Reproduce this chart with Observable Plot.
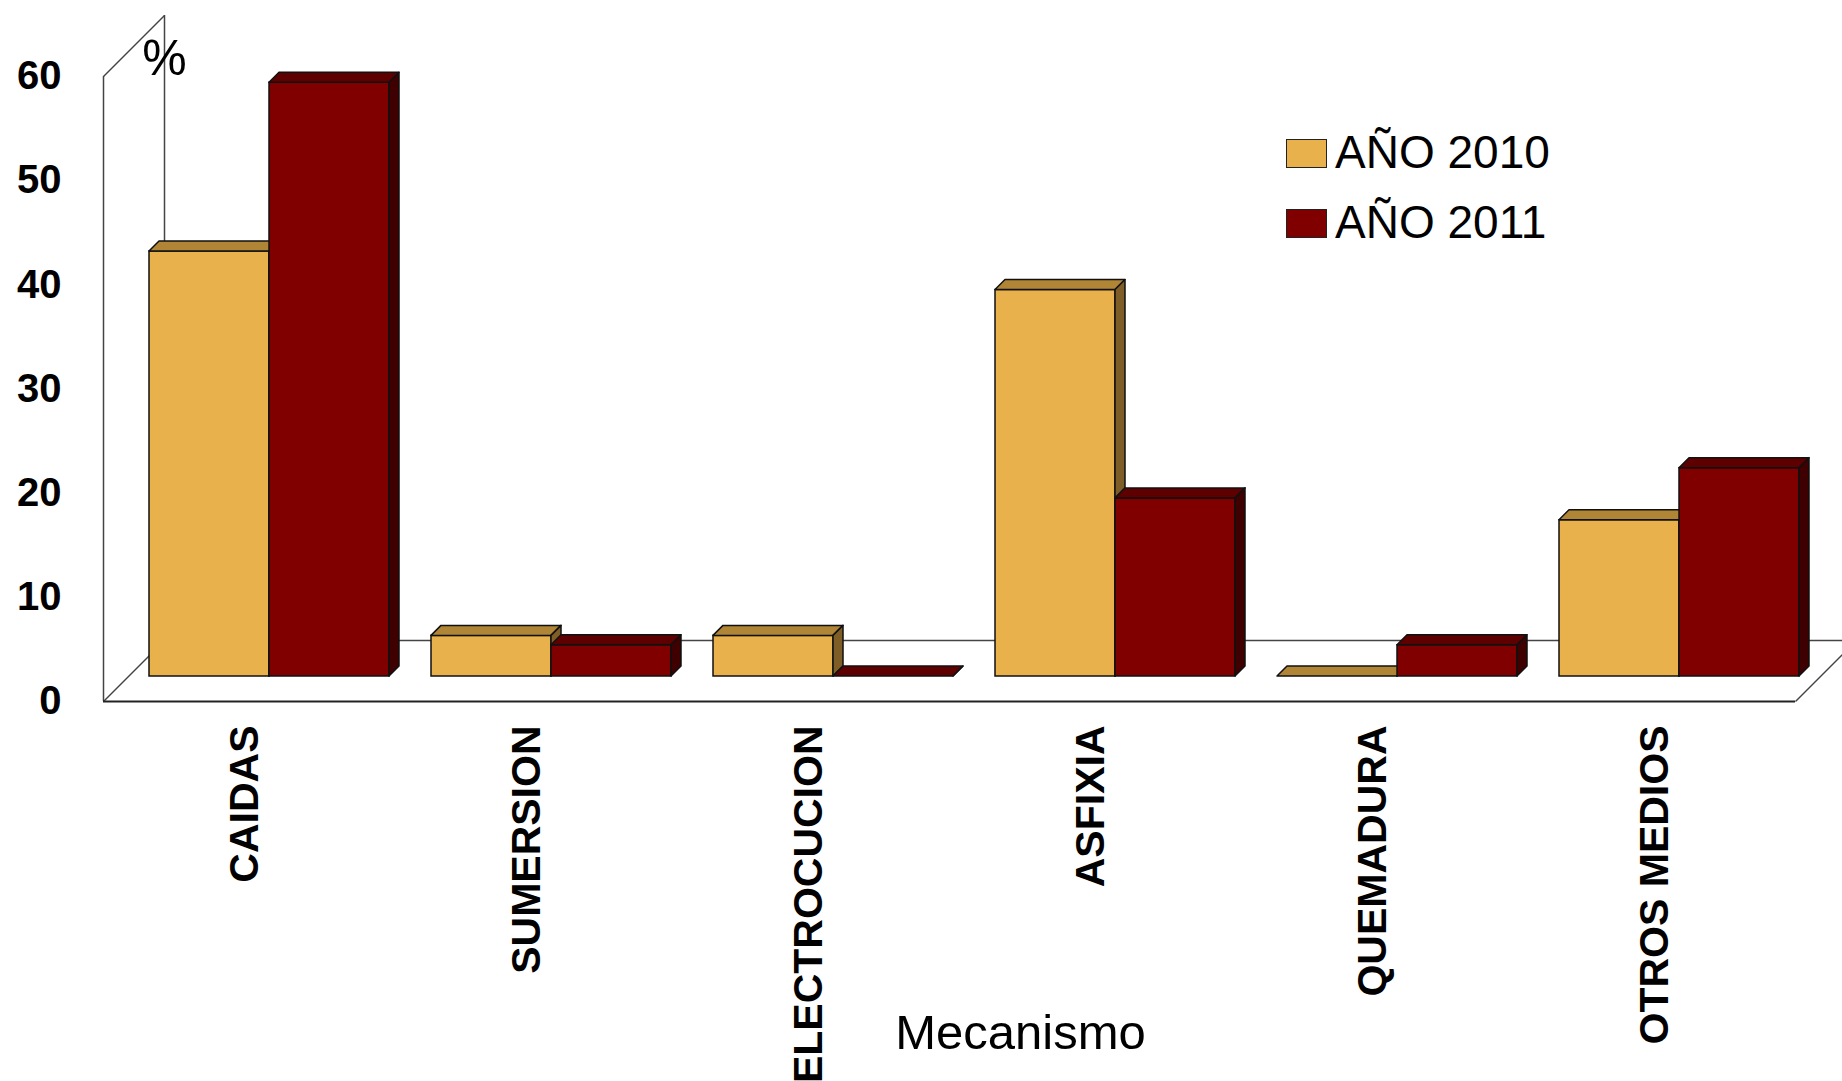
<!DOCTYPE html>
<html>
<head>
<meta charset="utf-8">
<script src="https://cdn.jsdelivr.net/npm/d3@7"></script>
<script src="https://cdn.jsdelivr.net/npm/@observablehq/plot@0.6"></script>
<style>
  html, body { margin: 0; padding: 0; background: #fff; overflow: hidden; }
  #wrap { position: relative; width: 1842px; height: 1081px; font-family: "Liberation Sans", Arial, sans-serif; }
  .sw { position: absolute; width: 39px; height: 27px; border: 1.5px solid #222; }
  .lt { position: absolute; font-size: 46px; line-height: 46px; color: #000; white-space: nowrap; }
</style>
</head>
<body>
<div id="wrap"></div>
<script>
// ---- data ----
const categories = ["CAIDAS", "SUMERSION", "ELECTROCUCION", "ASFIXIA", "QUEMADURA", "OTROS MEDIOS"];
const series = ["AÑO 2010", "AÑO 2011"];
const values2010 = [40.8, 3.9, 3.9, 37.1, 0, 15.0];
const values2011 = [57.0, 3.0, 0, 17.1, 3.0, 20.0];
const yTicks = [0, 10, 20, 30, 40, 50, 60];
const axisTitle = "Mecanismo";
const unitLabel = "%";

// ---- styling / layout ----
const W = 1842, H = 1081;
const FRONT_LEFT = 103, FRONT_RIGHT = 1795, FLOOR_Y = 701, TOP_Y = 76;
const pxX = (FRONT_RIGHT - FRONT_LEFT) / categories.length;
const pxY = (FLOOR_Y - TOP_Y) / 60;
const WALL = 61;     // depth of the floor / wall (px)
const SHIFT = 25;    // bars placed this far back (px)
const BAR_D = 10;    // bar depth (px)
const BAR_W = 120;   // bar width (px)
const frontC = ["#E9B14B", "#800000"];
const topC = ["#B08535", "#5E0000"];
const sideC = ["#7E5E26", "#3E0000"];
const lineC = "#444";

const rows = categories.flatMap((c, i) => series.map((s, k) => {
  const v = k === 0 ? values2010[i] : values2011[i];
  const a = k === 0 ? i - BAR_W / pxX : i;
  return {c, i, s, k, v, a, b: a + BAR_W / pxX, id: c + "|" + s};
}));
const dX = BAR_D / pxX, dY = BAR_D / pxY;
const tops = rows.flatMap(r => [
  {id: r.id, k: r.k, y: r.v, x1: r.a, x2: r.b},
  {id: r.id, k: r.k, y: r.v + dY, x1: r.a + dX, x2: r.b + dX}
]);
const sides = rows.flatMap(r => [
  {id: r.id, k: r.k, x: r.b, y1: 0, y2: r.v},
  {id: r.id, k: r.k, x: r.b + dX, y1: dY, y2: r.v + dY}
]);
const wX = WALL / pxX, wY = WALL / pxY;
const x0 = -0.5, x1 = categories.length - 0.5;

const barMarks = [0, 1].flatMap(k => [
  Plot.rect(rows.filter(r => r.k === k), {x1: "a", x2: "b", y1: 0, y2: "v", fill: frontC[k], stroke: "#111", strokeWidth: 1.5, dx: SHIFT, dy: -SHIFT}),
  Plot.area(tops.filter(r => r.k === k), {x1: "x1", x2: "x2", y1: "y", y2: "y", z: "id", fill: topC[k], stroke: "#111", strokeWidth: 1.5, dx: SHIFT, dy: -SHIFT}),
  Plot.area(sides.filter(r => r.k === k), {x1: "x", x2: "x", y1: "y1", y2: "y2", z: "id", fill: sideC[k], stroke: "#111", strokeWidth: 1.5, dx: SHIFT, dy: -SHIFT})
]);

const chart = Plot.plot({
  width: W, height: H,
  marginLeft: FRONT_LEFT, marginRight: W - FRONT_RIGHT, marginTop: TOP_Y, marginBottom: H - FLOOR_Y,
  style: {fontFamily: "'Liberation Sans', Arial, sans-serif", color: "#000", background: "#fff", overflow: "visible"},
  x: {type: "linear", domain: [x0, x1], axis: null},
  y: {domain: [0, 60], axis: null},
  marks: [
    // walls and floor
    Plot.ruleX([x0], {y1: 0, y2: 60, stroke: lineC, strokeWidth: 1.5}),
    Plot.ruleX([x0], {y1: 0, y2: 60, stroke: lineC, strokeWidth: 1.5, dx: WALL, dy: -WALL}),
    Plot.link([60, 0], {x1: () => x0, y1: d => d, x2: () => x0 + wX, y2: d => d + wY, stroke: lineC, strokeWidth: 1.5}),
    Plot.ruleY([0], {x1: x0, x2: x1, stroke: lineC, strokeWidth: 1.5, dx: WALL, dy: -WALL}),
    Plot.link([x1], {x1: d => d, y1: () => 0, x2: d => d + wX, y2: () => wY, stroke: lineC, strokeWidth: 1.5}),
    Plot.ruleY([0], {x1: x0, x2: x1, stroke: "#222", strokeWidth: 2}),
    // bars
    ...barMarks,
    // y axis
    Plot.axisY(yTicks, {tickSize: 0, tickPadding: 42, fontSize: 40, fontWeight: "bold", label: null}),
    Plot.text([unitLabel], {x: () => x0, y: () => 60, dx: 61, dy: -18, fontSize: 50, textAnchor: "middle"}),
    // category labels
    Plot.text(categories, {x: (d, i) => i, y: () => 0, text: d => d, rotate: -90, textAnchor: "end", lineAnchor: "middle", dy: 24, fontSize: 41, fontWeight: "bold"}),
    // axis title
    Plot.text([axisTitle], {frameAnchor: "bottom", dx: 71, dy: 332, fontSize: 49, textAnchor: "middle", lineAnchor: "middle"})
  ]
});

const wrap = document.getElementById("wrap");
wrap.appendChild(chart);

// legend
const legendTops = [139, 209];
series.forEach((s, k) => {
  const sw = document.createElement("div");
  sw.className = "sw";
  sw.style.left = "1286px";
  sw.style.top = legendTops[k] + "px";
  sw.style.background = frontC[k];
  wrap.appendChild(sw);
  const t = document.createElement("div");
  t.className = "lt";
  t.style.left = "1335px";
  t.style.top = (legendTops[k] + 29 - 39) + "px";
  t.textContent = s;
  wrap.appendChild(t);
});
</script>
</body>
</html>
